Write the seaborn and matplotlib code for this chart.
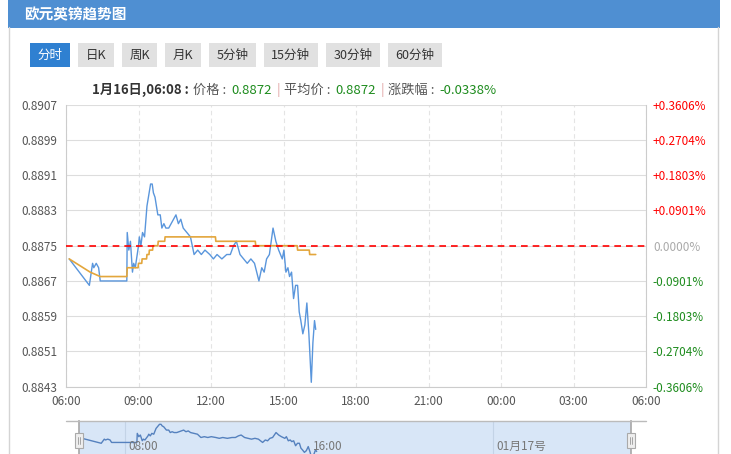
import pandas as pd
import matplotlib
matplotlib.use("Agg")
import matplotlib.pyplot as plt
from matplotlib.patches import Rectangle
from matplotlib.lines import Line2D
import seaborn as sns

#%% data

title = "欧元英镑趋势图"
buttons = ["分时", "日K", "周K", "月K", "5分钟", "15分钟", "30分钟", "60分钟"]
day = "2024-01-16"
prev_close = 0.8875

price_times = ["06:08", "06:58", "07:06", "07:09", "07:15", "07:21", "07:25", "08:31",
               "08:32", "08:36", "08:40", "08:45", "08:48", "08:52", "09:00", "09:02",
               "09:06", "09:10", "09:15", "09:21", "09:30", "09:34", "09:37", "09:41",
               "09:48", "09:54", "09:58", "10:03", "10:08", "10:15", "10:21", "10:27",
               "10:33", "10:39", "10:45", "10:51", "11:00", "11:09", "11:18", "11:27",
               "11:36", "11:45", "11:57", "12:06", "12:15", "12:27", "12:39", "12:48",
               "12:56", "13:03", "13:12", "13:21", "13:30", "13:39", "13:48", "13:59",
               "14:06", "14:12", "14:18", "14:25", "14:34", "14:41", "14:48", "14:57",
               "15:01", "15:06", "15:11", "15:15", "15:20", "15:25", "15:30", "15:35",
               "15:39", "15:43", "15:48", "15:53", "15:58", "16:03", "16:09", "16:13",
               "16:17", "16:20"]
price_values = [0.8872, 0.8866, 0.8871, 0.8870, 0.8871, 0.8870, 0.8867, 0.8867,
                0.8878, 0.8874, 0.8876, 0.8869, 0.8871, 0.8870, 0.8875, 0.8877,
                0.8875, 0.8878, 0.8877, 0.8884, 0.8889, 0.8889, 0.8887, 0.8886,
                0.8882, 0.8882, 0.8879, 0.8880, 0.8879, 0.8879, 0.8880, 0.8881,
                0.8882, 0.8880, 0.8881, 0.8879, 0.8878, 0.8877, 0.8873, 0.8874,
                0.8873, 0.8874, 0.8873, 0.8872, 0.8873, 0.8872, 0.8873, 0.8873,
                0.8875, 0.8876, 0.8873, 0.8872, 0.8871, 0.8872, 0.8871, 0.8867,
                0.8870, 0.8869, 0.8872, 0.8873, 0.8879, 0.8876, 0.8874, 0.8872,
                0.8874, 0.8869, 0.8870, 0.8868, 0.8869, 0.8863, 0.8866, 0.8866,
                0.8860, 0.8858, 0.8855, 0.8857, 0.8862, 0.8855, 0.8844, 0.8853,
                0.8858, 0.8856]

avg_times = ["06:08", "07:00", "07:25", "08:31", "08:32", "08:59", "09:00", "09:08",
             "09:09", "09:20", "09:21", "09:26", "09:27", "09:35", "09:36", "09:48",
             "09:49", "10:05", "10:06", "12:11", "12:12", "13:50", "13:51", "15:34",
             "15:35", "16:04", "16:05", "16:20"]
avg_values = [0.8872, 0.8869, 0.8868, 0.8868, 0.8870, 0.8870, 0.8871, 0.8871,
              0.8872, 0.8872, 0.8873, 0.8873, 0.8874, 0.8874, 0.8875, 0.8875,
              0.8876, 0.8876, 0.8877, 0.8877, 0.8876, 0.8876, 0.8875, 0.8875,
              0.8874, 0.8874, 0.8873, 0.8873]

y_ticks = [0.8843, 0.8851, 0.8859, 0.8867, 0.8875, 0.8883, 0.8891, 0.8899, 0.8907]
x_tick_labels = ["06:00", "09:00", "12:00", "15:00", "18:00", "21:00", "00:00", "03:00", "06:00"]
nav_labels = {"08:00": "08:00", "16:00": "16:00", "00:00": "01月17号"}

#%%

price = pd.DataFrame({"time": pd.to_datetime([day + " " + t for t in price_times]),
                      "price": price_values})
avg = pd.DataFrame({"time": pd.to_datetime([day + " " + t for t in avg_times]),
                    "price": avg_values})
start = pd.Timestamp(day + " 06:00")
end = start + pd.Timedelta(hours=24)

sns.set_theme(style="white")
plt.rcParams['font.family'] = ['Noto Sans CJK SC', 'DejaVu Sans']

W, H = 731, 454
fig = plt.figure(figsize=(W / 100, H / 100), dpi=100)

def fx(px):
    return px / W

def fy(py):
    return 1 - py / H

def clock(hh):
    tt = pd.Timestamp(day + " " + hh)
    return tt + pd.Timedelta(days=1) if tt < start else tt

blue = "#5a96dc"
orange = "#e3a63c"
green = "#1e8c1e"
grey = "#555555"

# card frame + title bar
for x in (9, 718):
    fig.add_artist(Line2D([fx(x), fx(x)], [0, fy(27)], color="#d4d4d4", lw=1))
fig.add_artist(Rectangle((fx(8), fy(27.5)), fx(720) - fx(8), 27.5 / H,
                         transform=fig.transFigure, color="#4f8fd2", lw=0))
fig.text(fx(24), fy(14), title, color="white", fontsize=10.5, fontweight="bold", va="center")

#%% main chart

ax = fig.add_axes([fx(66), fy(386.7), fx(646) - fx(66), (386.7 - 104.7) / H])
sns.lineplot(data=price, x="time", y="price", ax=ax, color=blue, lw=1,
             estimator=None, sort=False)
sns.lineplot(data=avg, x="time", y="price", ax=ax, color=orange, lw=1.2,
             estimator=None, sort=False)
ax.axhline(prev_close, color="red", lw=1.2, ls=(0, (4, 3)), zorder=5)

ax.set_xlim(start, end)
ax.set_ylim(y_ticks[0], y_ticks[-1])
ax.set_xticks(pd.date_range(start, end, freq="3h"))
ax.set_xticklabels(x_tick_labels)
ax.set_yticks(y_ticks)
ax.set_yticklabels([f"{v:.4f}" for v in y_ticks])
ax.set_xlabel("")
ax.set_ylabel("")
ax.tick_params(axis="both", length=0, labelsize=8.5, labelcolor=grey)
ax.tick_params(axis="y", pad=6)
ax.tick_params(axis="x", pad=6)
ax.yaxis.grid(True, color="#dddddd", lw=0.8)
ax.xaxis.grid(True, color="#e4e4e4", lw=0.8, ls=(0, (4, 3)))
ax.spines["top"].set_visible(False)
for s in ("left", "bottom", "right"):
    ax.spines[s].set_color("#cccccc")
    ax.spines[s].set_linewidth(0.8)

ax2 = ax.twinx()
ax2.set_ylim(ax.get_ylim())
ax2.set_yticks(y_ticks)
pct = [(v - prev_close) / prev_close * 100 for v in y_ticks]
ax2.set_yticklabels([f"{p:+.4f}%" if abs(p) > 1e-9 else "0.0000%" for p in pct])
for lab, p in zip(ax2.get_yticklabels(), pct):
    lab.set_color("red" if p > 1e-9 else ("#aaaaaa" if abs(p) < 1e-9 else green))
ax2.tick_params(axis="y", length=0, labelsize=8.5, pad=5)
for s in ax2.spines.values():
    s.set_visible(False)

#%% buttons and header

fig.canvas.draw()
r = fig.canvas.get_renderer()

x = 30
for i, b in enumerate(buttons):
    t = fig.text(0, 0, b, fontsize=9)
    w = t.get_window_extent(r).width
    t.remove()
    bw = w + 15
    fig.add_artist(Rectangle((fx(x), fy(67)), bw / W, 24 / H, transform=fig.transFigure,
                             color="#2f80d1" if i == 0 else "#e1e1e1", lw=0))
    fig.text(fx(x + bw / 2), fy(55), b, fontsize=9, ha="center", va="center",
             color="white" if i == 0 else "#333333")
    x += bw + 8

first = price.iloc[0]
chg = (first["price"] - prev_close) / prev_close * 100
pieces = [(f"{first['time'].month}月{first['time'].day}日,{first['time']:%H:%M} :", "#333333", "bold"),
          ("价格 :", grey, "normal"), (f"{first['price']:.4f}", green, "normal"),
          ("|", "#e2a4a4", "normal"),
          ("平均价 :", grey, "normal"), (f"{avg_values[0]:.4f}", green, "normal"),
          ("|", "#e2a4a4", "normal"),
          ("涨跌幅 :", grey, "normal"), (f"{chg:.4f}%", green, "normal")]
x = 92
for s, c, wgt in pieces:
    t = fig.text(fx(x), fy(90), s, color=c, fontsize=9.5, fontweight=wgt, va="center")
    x = t.get_window_extent(r).x1 + 4.5

#%% navigator

nav = fig.add_axes([fx(79), 0, fx(631) - fx(79), 33 / H])
nav.set_facecolor("#d8e6f7")
sns.lineplot(data=price, x="time", y="price", ax=nav, color="#5581be", lw=1,
             estimator=None, sort=False)
nav.set_xlim(start, end)
nav.set_ylim(0.8853, 0.8893)
nav.set_xticks([])
nav.set_yticks([])
nav.set_xlabel("")
nav.set_ylabel("")
for s in ("top", "bottom"):
    nav.spines[s].set_visible(False)
for s in ("left", "right"):
    nav.spines[s].set_color("#aaaaaa")
for hh in ("08:00", "00:00"):
    nav.axvline(clock(hh), color="#c3d3e6", lw=0.8, zorder=0)
for hh, lab in nav_labels.items():
    nav.text(clock(hh) + pd.Timedelta(minutes=10), 0.42, lab, transform=nav.get_xaxis_transform(),
             fontsize=8.5, color="#777777", va="top")
fig.add_artist(Line2D([fx(66), fx(646)], [fy(421), fy(421)], color="#bbbbbb", lw=1))
for hx in (79, 631):
    fig.add_artist(Rectangle((fx(hx - 4), fy(448)), 8 / W, 15 / H, transform=fig.transFigure,
                             facecolor="#eeeeee", edgecolor="#aaaaaa", lw=0.8))
    for dx in (-1, 1):
        fig.add_artist(Line2D([fx(hx + dx), fx(hx + dx)], [fy(444), fy(437)],
                              color="#999999", lw=0.6))

fig.savefig("out.png", dpi=100)
